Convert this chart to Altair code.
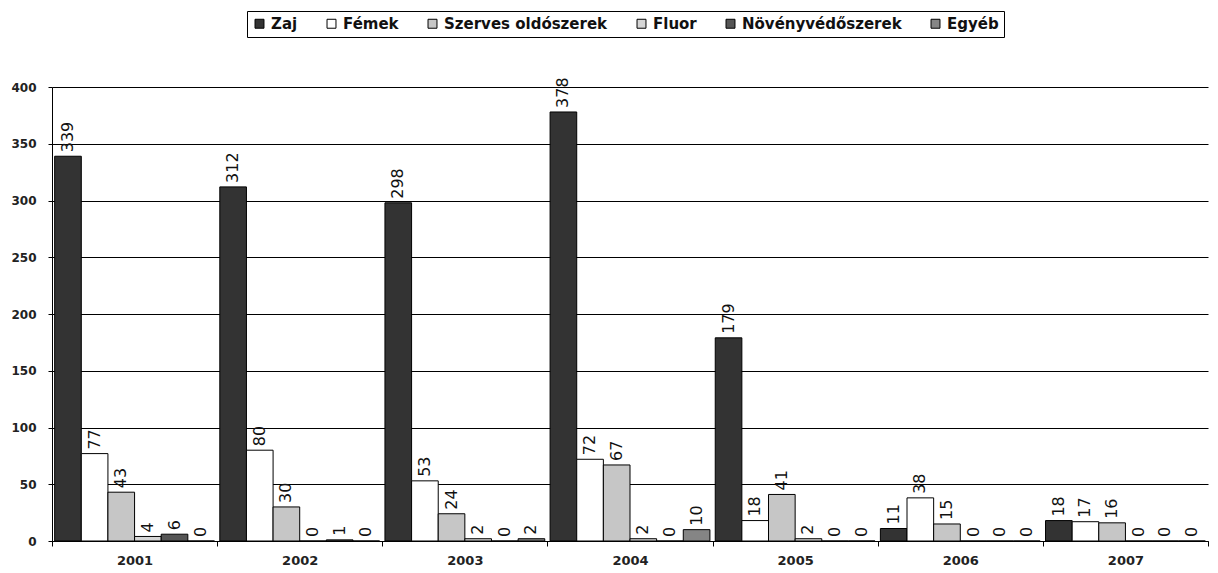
import altair as alt
import pandas as pd

years = ["2001", "2002", "2003", "2004", "2005", "2006", "2007"]
series = ["Zaj", "Fémek", "Szerves oldószerek", "Fluor", "Növényvédőszerek", "Egyéb"]
zaj = [339, 312, 298, 378, 179, 11, 18]
femek = [77, 80, 53, 72, 18, 38, 17]
szerves = [43, 30, 24, 67, 41, 15, 16]
fluor = [4, 0, 2, 2, 2, 0, 0]
noveny = [6, 1, 0, 0, 0, 0, 0]
egyeb = [0, 0, 2, 10, 0, 0, 0]
colors = ["#333333", "#ffffff", "#c6c6c6", "#d6d6d6", "#555555", "#858585"]
y_ticks = [0, 50, 100, 150, 200, 250, 300, 350, 400]

rows = []
for s, vals in zip(series, [zaj, femek, szerves, fluor, noveny, egyeb]):
    for yr, v in zip(years, vals):
        rows.append({"year": yr, "series": s, "value": v})
df = pd.DataFrame(rows)

FONT = "DejaVu Sans"

x_enc = alt.X("year:N", sort=years, title=None,
              scale=alt.Scale(paddingInner=0, paddingOuter=0),
              axis=alt.Axis(labelAngle=0, tickBand="extent", domainColor="black",
                            tickColor="black", tickSize=5, labelPadding=8,
                            labelFont=FONT, labelFontSize=13, labelFontWeight="bold",
                            labelColor="#222222", grid=False))
xo_enc = alt.XOffset("series:N", sort=series,
                     scale=alt.Scale(paddingInner=0, paddingOuter=0.1))
y_enc = alt.Y("value:Q", title=None,
              scale=alt.Scale(domain=[0, 400], nice=False),
              axis=alt.Axis(values=y_ticks, grid=True, gridColor="black", gridWidth=1,
                            gridOpacity=1, domainColor="black", tickColor="black",
                            tickSize=4, labelFont=FONT, labelFontSize=12,
                            labelFontWeight="bold", labelColor="#222222",
                            minExtent=44, labelPadding=12))

bars = alt.Chart(df).mark_bar(stroke="black", strokeWidth=1).encode(
    x=x_enc,
    xOffset=xo_enc,
    y=y_enc,
    color=alt.Color("series:N", sort=series,
                    scale=alt.Scale(domain=series, range=colors),
                    legend=alt.Legend(title=None, orient="none", direction="horizontal",
                                      columns=6, legendX=195, legendY=-76,
                                      symbolType="square", symbolSize=80,
                                      symbolStrokeColor="black", symbolStrokeWidth=1,
                                      labelFont=FONT, labelFontSize=15,
                                      labelFontWeight="bold", labelColor="#111111",
                                      labelLimit=400,
                                      strokeColor="black", padding=5,
                                      columnPadding=26, labelOffset=4)),
)

labels = alt.Chart(df).mark_text(angle=270, align="left", baseline="middle", dx=4,
                                 font=FONT, fontSize=16, color="#111111").encode(
    x=alt.X("year:N", sort=years),
    xOffset=alt.XOffset("series:N", sort=series),
    y=alt.Y("value:Q"),
    text=alt.Text("value:Q"),
)

chart = alt.layer(bars, labels).properties(
    width=1156, height=454,
    padding={"left": 0, "top": 2, "right": 0, "bottom": 0},
).configure_view(strokeWidth=0)

chart.save("out.html", embed_options={"renderer": "svg", "actions": False})
